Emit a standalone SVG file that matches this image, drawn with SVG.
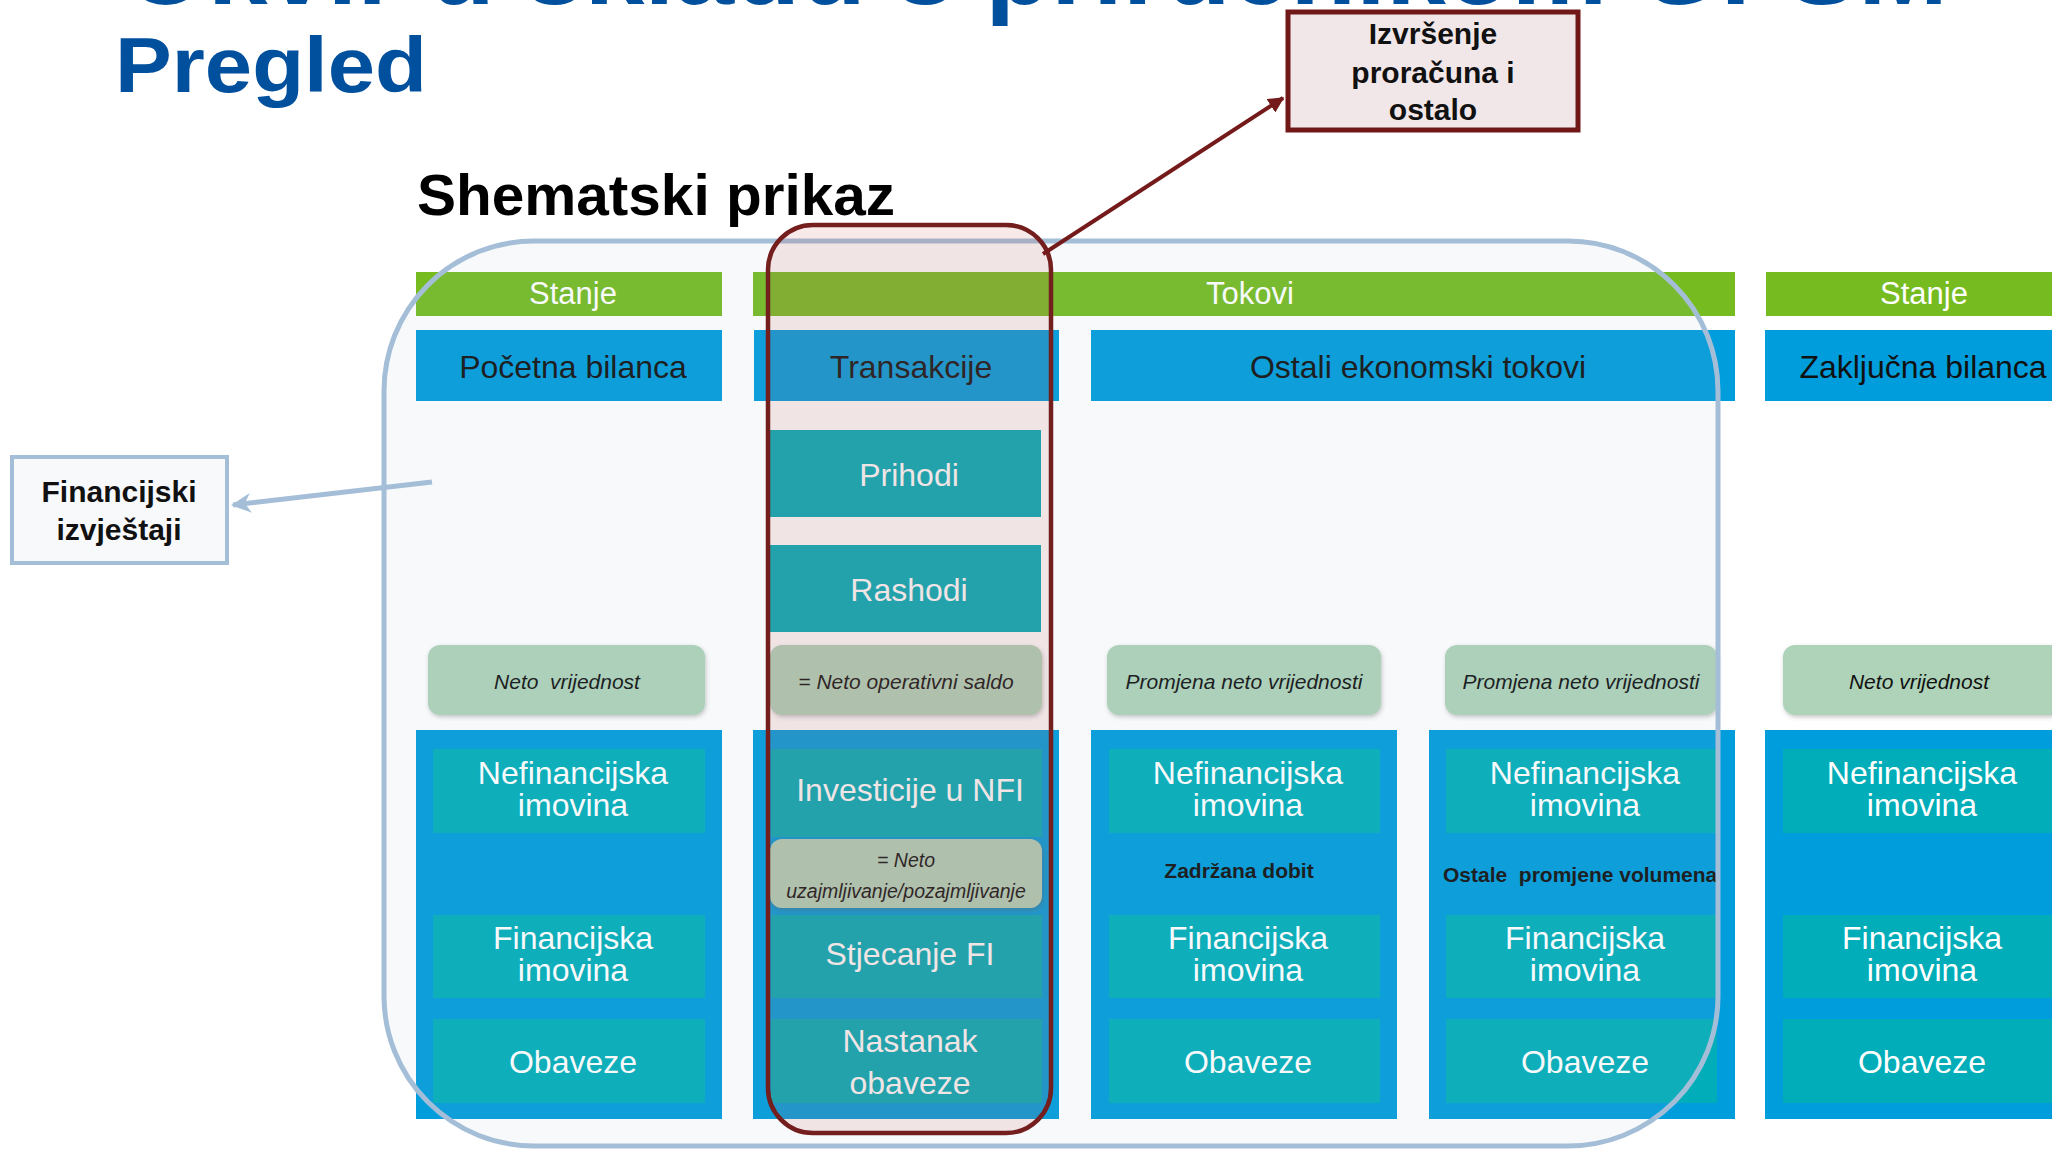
<svg xmlns="http://www.w3.org/2000/svg" width="2052" height="1150" viewBox="0 0 2052 1150">
<defs>
<style>
text{font-family:"Liberation Sans",Arial,sans-serif}
.bar{fill:#76bc21}
.hdr{fill:#009ddc}
.panel{fill:#009ddc}
.teal{fill:#00adb8}
.note{fill:#aed3b9}
.wt{fill:#ffffff;font-size:32px;text-anchor:middle}
.bt{fill:#111111;font-size:32px;text-anchor:middle}
.st{fill:#ffffff;font-size:31px;text-anchor:middle}
.it{fill:#111111;font-size:21px;font-style:italic;text-anchor:middle}
.bold{fill:#111111;font-weight:bold}
</style>
<filter id="sh" x="-10%" y="-20%" width="120%" height="150%">
<feDropShadow dx="1" dy="2" stdDeviation="2" flood-color="#555" flood-opacity="0.35"/>
</filter>
<marker id="arrRed" viewBox="0 0 10 10" refX="9" refY="5" markerWidth="4" markerHeight="4" orient="auto" markerUnits="strokeWidth">
<path d="M0,0 L10,5 L0,10 Z" fill="#741a1a"/>
</marker>
<marker id="arrBlue" viewBox="0 0 10 10" refX="9" refY="5" markerWidth="4" markerHeight="4" orient="auto" markerUnits="strokeWidth">
<path d="M0,0 L10,5 L0,10 L3,5 Z" fill="#a5bed8"/>
</marker>
</defs>
<rect width="2052" height="1150" fill="#ffffff"/>

<g id="title">
<text x="124" y="4" font-size="107" font-weight="bold" fill="#00509e" textLength="1824" lengthAdjust="spacingAndGlyphs">Okvir u skladu s priručnikom GFSM</text>
<text x="115" y="92" font-size="77" font-weight="bold" fill="#00509e" textLength="312" lengthAdjust="spacingAndGlyphs">Pregled</text>
<text x="417" y="215" font-size="58" font-weight="bold" fill="#000000" textLength="478" lengthAdjust="spacingAndGlyphs">Shematski prikaz</text>
</g>

<g id="header-stanje-1"><rect class="bar" x="416" y="272" width="306" height="44"/><text class="st" x="573" y="304">Stanje</text></g>
<g id="header-tokovi"><rect class="bar" x="753" y="272" width="982" height="44"/><text class="st" x="1250" y="304">Tokovi</text></g>
<g id="header-stanje-2"><rect class="bar" x="1766" y="272" width="310" height="44"/><text class="st" x="1924" y="304">Stanje</text></g>

<g id="hdr-pocetna"><rect class="hdr" x="416" y="330" width="306" height="71"/><text class="bt" x="573" y="378">Početna bilanca</text></g>
<g id="hdr-transakcije"><rect class="hdr" x="754" y="330" width="305" height="71"/><text class="bt" x="911" y="378">Transakcije</text></g>
<g id="hdr-ostali"><rect class="hdr" x="1091" y="330" width="644" height="71"/><text class="bt" x="1418" y="378">Ostali ekonomski tokovi</text></g>
<g id="hdr-zakljucna"><rect class="hdr" x="1765" y="330" width="310" height="71"/><text class="bt" x="1923" y="378">Zaključna bilanca</text></g>

<g id="prihodi"><rect class="teal" x="770" y="430" width="271" height="87"/><text class="wt" x="909" y="486">Prihodi</text></g>
<g id="rashodi"><rect class="teal" x="770" y="545" width="271" height="87"/><text class="wt" x="909" y="601">Rashodi</text></g>

<g id="note-1"><rect class="note" x="428" y="645" width="277" height="70" rx="12" filter="url(#sh)"/><text class="it" x="567" y="689" style="white-space:pre">Neto  vrijednost</text></g>
<g id="note-2"><rect class="note" x="770" y="645" width="272" height="70" rx="12" filter="url(#sh)"/><text class="it" x="906" y="689">= Neto operativni saldo</text></g>
<g id="note-3"><rect class="note" x="1107" y="645" width="274" height="70" rx="12" filter="url(#sh)"/><text class="it" x="1244" y="689">Promjena neto vrijednosti</text></g>
<g id="note-4"><rect class="note" x="1445" y="645" width="272" height="70" rx="12" filter="url(#sh)"/><text class="it" x="1581" y="689">Promjena neto vrijednosti</text></g>
<g id="note-5"><rect class="note" x="1783" y="645" width="280" height="70" rx="12" filter="url(#sh)"/><text class="it" x="1919" y="689">Neto vrijednost</text></g>

<g id="col-1">
<rect class="panel" x="416" y="730" width="306" height="389"/>
<rect class="teal" x="433" y="749" width="272" height="84"/>
<text class="wt" x="573" y="784">Nefinancijska</text><text class="wt" x="573" y="816">imovina</text>
<rect class="teal" x="433" y="915" width="272" height="83"/>
<text class="wt" x="573" y="949">Financijska</text><text class="wt" x="573" y="981">imovina</text>
<rect class="teal" x="433" y="1019" width="272" height="84"/>
<text class="wt" x="573" y="1073">Obaveze</text>
</g>

<g id="col-2">
<rect class="panel" x="753" y="730" width="306" height="389"/>
<rect class="teal" x="771" y="749" width="271" height="88"/>
<text class="wt" x="910" y="801">Investicije u NFI</text>
<rect class="teal" x="771" y="915" width="271" height="83"/>
<text class="wt" x="910" y="965">Stjecanje FI</text>
<rect class="teal" x="771" y="1019" width="271" height="84"/>
<text class="wt" x="910" y="1052">Nastanak</text><text class="wt" x="910" y="1094">obaveze</text>
</g>
<g id="note-6"><rect class="note" x="770" y="839" width="272" height="69" rx="12" filter="url(#sh)"/>
<text class="it" x="906" y="867" style="font-size:19.5px">= Neto</text>
<text class="it" x="906" y="898" style="font-size:19.5px">uzajmljivanje/pozajmljivanje</text></g>

<g id="col-3">
<rect class="panel" x="1091" y="730" width="306" height="389"/>
<rect class="teal" x="1109" y="749" width="271" height="84"/>
<text class="wt" x="1248" y="784">Nefinancijska</text><text class="wt" x="1248" y="816">imovina</text>
<text class="bold" x="1239" y="878" font-size="21" text-anchor="middle">Zadržana dobit</text>
<rect class="teal" x="1109" y="915" width="271" height="83"/>
<text class="wt" x="1248" y="949">Financijska</text><text class="wt" x="1248" y="981">imovina</text>
<rect class="teal" x="1109" y="1019" width="271" height="84"/>
<text class="wt" x="1248" y="1073">Obaveze</text>
</g>

<g id="col-4">
<rect class="panel" x="1429" y="730" width="306" height="389"/>
<rect class="teal" x="1446" y="749" width="271" height="84"/>
<text class="wt" x="1585" y="784">Nefinancijska</text><text class="wt" x="1585" y="816">imovina</text>
<text class="bold" x="1443" y="882" font-size="21" style="white-space:pre">Ostale  promjene volumena</text>
<rect class="teal" x="1446" y="915" width="271" height="83"/>
<text class="wt" x="1585" y="949">Financijska</text><text class="wt" x="1585" y="981">imovina</text>
<rect class="teal" x="1446" y="1019" width="271" height="84"/>
<text class="wt" x="1585" y="1073">Obaveze</text>
</g>

<g id="col-5">
<rect class="panel" x="1765" y="730" width="310" height="389"/>
<rect class="teal" x="1783" y="749" width="272" height="84"/>
<text class="wt" x="1922" y="784">Nefinancijska</text><text class="wt" x="1922" y="816">imovina</text>
<rect class="teal" x="1783" y="915" width="272" height="83"/>
<text class="wt" x="1922" y="949">Financijska</text><text class="wt" x="1922" y="981">imovina</text>
<rect class="teal" x="1783" y="1019" width="272" height="84"/>
<text class="wt" x="1922" y="1073">Obaveze</text>
</g>

<g id="frame">
<rect x="384" y="241" width="1334" height="905" rx="150" ry="150" fill="#a3bad2" fill-opacity="0.085" stroke="#a5bed8" stroke-width="5"/>
</g>

<g id="izvrsenje-column">
<rect x="768" y="225" width="283" height="908" rx="45" ry="45" fill="#c0504d" fill-opacity="0.12" stroke="#741e1e" stroke-width="4.5"/>
</g>

<g id="connectors">
<line x1="432" y1="482" x2="233" y2="505" stroke="#a5bed8" stroke-width="5" marker-end="url(#arrBlue)"/>
<line x1="1043" y1="254" x2="1283" y2="98" stroke="#741a1a" stroke-width="4" marker-end="url(#arrRed)"/>
</g>

<g id="izvrsenje-box">
<rect x="1288" y="12" width="290" height="118" fill="#f1e7e8" stroke="#701818" stroke-width="5"/>
<text class="bold" x="1433" y="44" font-size="30" text-anchor="middle">Izvršenje</text>
<text class="bold" x="1433" y="83" font-size="30" text-anchor="middle">proračuna i</text>
<text class="bold" x="1433" y="120" font-size="30" text-anchor="middle">ostalo</text>
</g>

<g id="financijski-box">
<rect x="12" y="457" width="215" height="106" fill="#f7f9fb" stroke="#a5bed8" stroke-width="4"/>
<text class="bold" x="119" y="502" font-size="30" text-anchor="middle">Financijski</text>
<text class="bold" x="119" y="540" font-size="30" text-anchor="middle">izvještaji</text>
</g>
</svg>
